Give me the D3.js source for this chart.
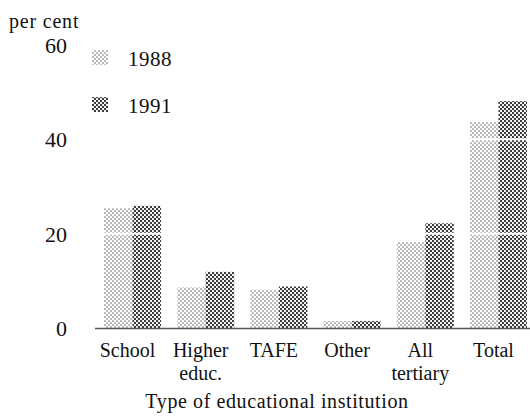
<!DOCTYPE html>
<html><head><meta charset="utf-8">
<script src="https://cdn.jsdelivr.net/npm/d3@7/dist/d3.min.js"></script>
<style>body{margin:0;background:#fff}text{font-family:"Liberation Serif","Times New Roman",serif;fill:#111}</style>
</head><body><svg id="c" width="530" height="418"></svg>
<script>
const categories = ["School", "Higher educ.", "TAFE", "Other", "All tertiary", "Total"];
const categoryLines = [["School"], ["Higher", "educ."], ["TAFE"], ["Other"], ["All", "tertiary"], ["Total"]];
const series = ["1988", "1991"];
const values1988 = [25.4, 8.6, 8.1, 1.5, 18.2, 43.7];
const values1991 = [25.9, 11.9, 8.8, 1.5, 22.2, 48.1];
const yTicks = [0, 20, 40, 60];

const svg = d3.select("#c");
const defs = svg.append("defs");
function pat(id, r, col) {
  const p = defs.append("pattern").attr("id", id).attr("width", 4).attr("height", 4).attr("patternUnits", "userSpaceOnUse");
  p.append("rect").attr("width", 4).attr("height", 4).attr("fill", "#fff");
  p.append("circle").attr("cx", 1).attr("cy", 1).attr("r", r).attr("fill", col);
  p.append("circle").attr("cx", 3).attr("cy", 3).attr("r", r).attr("fill", col);
}
pat("p1988", 0.85, "#777");
pat("p1991", 1.15, "#333");
const fills = {"1988": "url(#p1988)", "1991": "url(#p1991)"};

const x0 = d3.scaleBand().domain(categories).range([104, 527]).paddingInner(0.221).paddingOuter(0);
const x1 = d3.scaleBand().domain(series).range([0, x0.bandwidth()]);
const y = d3.scaleLinear().domain([0, 60]).range([328, 45]);

const data = categories.map((c, i) => ({c, v: {"1988": values1988[i], "1991": values1991[i]}}));
const g = svg.append("g");
data.forEach(d => {
  series.forEach(s => {
    g.append("rect").attr("x", x0(d.c) + x1(s)).attr("width", x1.bandwidth())
      .attr("y", y(d.v[s])).attr("height", y(0) - y(d.v[s])).attr("fill", fills[s]);
  });
});
// white gridlines over bars
[20, 40].forEach(t => {
  svg.append("line").attr("x1", 96).attr("x2", 530).attr("y1", y(t)).attr("y2", y(t))
    .attr("stroke", "#fff").attr("stroke-width", 2);
});
// baseline
svg.append("line").attr("x1", 95).attr("x2", 530).attr("y1", y(0) + 0.5).attr("y2", y(0) + 0.5)
  .attr("stroke", "#555").attr("stroke-width", 1.5);

// y tick labels
svg.selectAll(".yt").data(yTicks).enter().append("text").attr("x", 67).attr("y", d => y(d) + 8)
  .attr("text-anchor", "end").attr("font-size", 22).text(d => d);
svg.append("text").attr("x", 9).attr("y", 28).attr("font-size", 20).attr("letter-spacing", 0.8).text("per cent");

// legend
series.forEach((s, i) => {
  const ly = 50 + i * 47;
  svg.append("rect").attr("x", 92).attr("y", ly).attr("width", 16).attr("height", 15).attr("fill", fills[s]);
  svg.append("text").attr("x", 128).attr("y", ly + 16).attr("font-size", 21).attr("letter-spacing", 0.5).text(s);
});

// category labels
data.forEach((d, i) => {
  categoryLines[i].forEach((l, j) => {
    svg.append("text").attr("x", x0(d.c) + x0.bandwidth() / 2 - 5).attr("y", 357 + j * 23)
      .attr("text-anchor", "middle").attr("font-size", 20).text(l);
  });
});
svg.append("text").attr("x", 277).attr("y", 408).attr("text-anchor", "middle").attr("font-size", 20)
  .attr("letter-spacing", 0.6).text("Type of educational institution");
</script></body></html>
